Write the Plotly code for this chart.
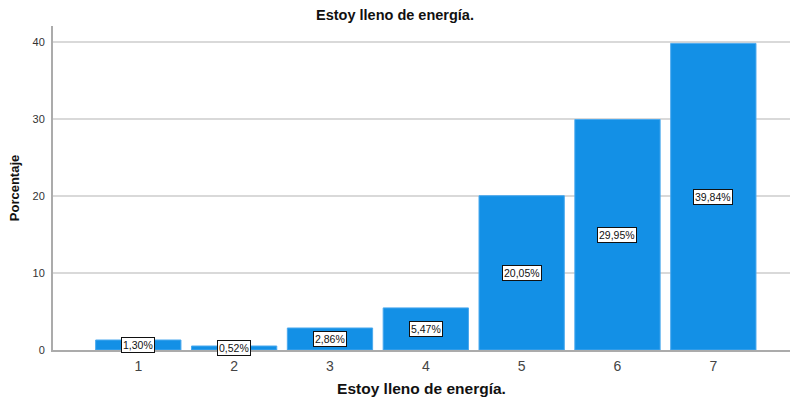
import plotly.graph_objects as go

# Response categories and their percentages
categories = [1, 2, 3, 4, 5, 6, 7]
percentages = [1.30, 0.52, 2.86, 5.47, 20.05, 29.95, 39.84]
value_labels = ["1,30%", "0,52%", "2,86%", "5,47%", "20,05%", "29,95%", "39,84%"]
y_ticks = [0, 10, 20, 30, 40]

title_text = "Estoy lleno de energía."
x_title = "Estoy lleno de energía."
y_title = "Porcentaje"

BAR_COLOR = "#1390E6"
FONT = "Liberation Sans, Arial, sans-serif"

fig = go.Figure()
fig.add_trace(go.Bar(
    x=categories,
    y=percentages,
    width=0.89,
    marker=dict(color=BAR_COLOR, line=dict(color="#4BA9EE", width=1)),
    hoverinfo="skip",
))

# Boxed value labels centred halfway up each bar
for cat, val, lab in zip(categories, percentages, value_labels):
    fig.add_annotation(
        x=cat, y=val / 2, text=lab, showarrow=False,
        font=dict(family=FONT, size=10.5, color="#111111"),
        bgcolor="white", bordercolor="#111111", borderwidth=1, borderpad=1,
    )

fig.update_layout(
    width=790, height=397,
    margin=dict(l=53, r=0, t=26, b=47),
    paper_bgcolor="white", plot_bgcolor="white",
    showlegend=False,
    title=dict(
        text=title_text, x=0.5, xanchor="center", y=0.963, yanchor="middle",
        font=dict(family=FONT, size=14.5, color="#111111", weight="bold"),
    ),
    xaxis=dict(
        range=[0.11, 7.8],
        tickmode="array", tickvals=categories, ticktext=[str(c) for c in categories],
        tickfont=dict(family=FONT, size=14, color="#444444"),
        showgrid=False, zeroline=False,
        showline=True, linecolor="#ABABAB", linewidth=2,
        ticks="", ticklabelstandoff=2,
        title=dict(text=x_title, standoff=11,
                   font=dict(family=FONT, size=15.5, color="#111111", weight="bold")),
    ),
    yaxis=dict(
        range=[0, 42.1],
        tickmode="array", tickvals=y_ticks,
        tickfont=dict(family=FONT, size=11, color="#333333"),
        showgrid=True, gridcolor="#D9D9D9", gridwidth=1.5,
        zeroline=False,
        showline=True, linecolor="#ABABAB", linewidth=2,
        ticks="", ticklabelstandoff=4,
        title=dict(text=y_title, standoff=10,
                   font=dict(family=FONT, size=13, color="#111111", weight="bold")),
    ),
)

fig.write_html("out.html")
